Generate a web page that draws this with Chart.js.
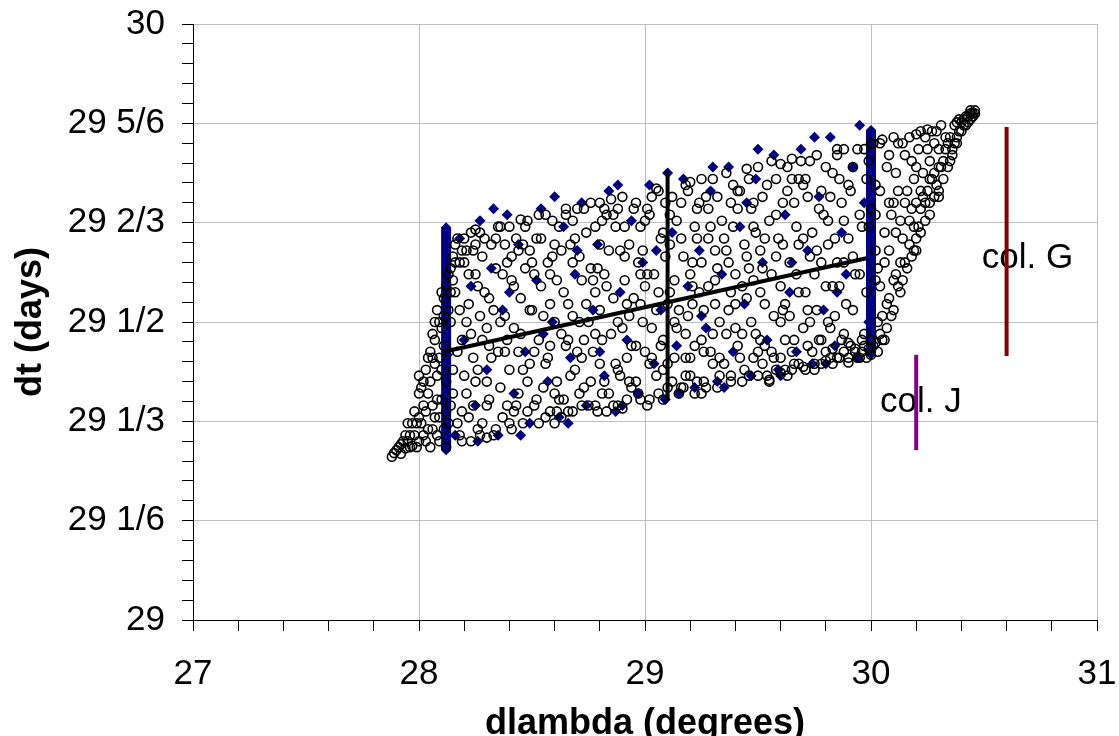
<!DOCTYPE html>
<html>
<head>
<meta charset="utf-8">
<script src="https://cdn.jsdelivr.net/npm/chart.js@4.4.0/dist/chart.umd.min.js"></script>
<style>
  html, body { margin: 0; padding: 0; background: #fff; }
  #wrap { width: 1119px; height: 736px; }
</style>
</head>
<body>
<div id="wrap"><canvas id="chart" width="1119" height="736"></canvas></div>
<script>
// Tick labels
const xTickLabels = ['27', '28', '29', '30', '31'];
const yTickLabels = ['29', '29 1/6', '29 1/3', '29 1/2', '29 2/3', '29 5/6', '30'];

// Open circles [dlambda, dt]
const circlePoints = [
  [27.88,29.274],[27.9,29.285],[27.92,29.279],[27.93,29.30],[27.94,29.288],
  [27.96,29.31],[27.97,29.292],[27.98,29.35],[27.99,29.33],[28.0,29.30],[28.01,29.39],[28.02,29.36],[28.03,29.42],[28.04,29.32],[28.05,29.29],[28.05,29.45],
  [28.06,29.48],[28.07,29.34],[28.08,29.52],[28.08,29.41],[28.09,29.30],[28.1,29.55],[28.1,29.37],[28.11,29.46],[28.12,29.29],[28.13,29.58],[28.13,29.33],[28.14,29.50],[28.15,29.61],[28.15,29.42],
  [28.02,29.40],[28.07,29.47],[28.11,29.54],[28.14,29.59],[28.16,29.63],[28.04,29.44],[27.95,29.33],[28.0,29.38],[28.06,29.44],[28.09,29.50],[28.12,29.56],[28.15,29.57],
  [28.17,29.64],[28.18,29.31],[28.19,29.47],[28.2,29.60],[28.21,29.38],[28.22,29.53],[28.23,29.65],[28.23,29.30],[28.24,29.44],[28.25,29.58],[28.19,29.35],[28.21,29.62],
  [28.26,29.42],[28.27,29.65],[28.28,29.33],[28.29,29.55],[28.3,29.49],[28.31,29.37],[28.32,29.63],[28.33,29.31],[28.34,29.59],[28.35,29.45],[28.28,29.61],[28.3,29.40],[28.33,29.52],
  [28.36,29.66],[28.37,29.34],[28.38,29.51],[28.39,29.60],[28.4,29.42],[28.41,29.32],[28.42,29.56],[28.43,29.64],[28.44,29.38],[28.45,29.48],[28.38,29.45],[28.42,29.35],[28.44,29.62],
  [28.46,29.33],[28.47,29.59],[28.48,29.67],[28.49,29.43],[28.5,29.52],[28.51,29.36],[28.52,29.64],[28.53,29.47],[28.54,29.56],[28.55,29.39],[28.49,29.62],[28.53,29.33],
  [28.56,29.68],[28.57,29.44],[28.58,29.35],[28.59,29.61],[28.6,29.50],[28.61,29.40],[28.62,29.66],[28.63,29.34],[28.64,29.55],[28.65,29.46],[28.58,29.58],[28.62,29.37],[28.6,29.63],
  [28.66,29.35],[28.67,29.63],[28.68,29.51],[28.69,29.42],[28.7,29.69],[28.71,29.38],[28.72,29.57],[28.73,29.47],[28.74,29.65],[28.75,29.36],[28.68,29.60],[28.72,29.44],[28.74,29.53],
  [28.76,29.70],[28.77,29.45],[28.78,29.36],[28.79,29.59],[28.8,29.52],[28.81,29.67],[28.82,29.40],[28.83,29.35],[28.84,29.62],[28.85,29.48],[28.78,29.55],[28.82,29.69],[28.8,29.43],
  [28.86,29.36],[28.87,29.66],[28.88,29.50],[28.89,29.41],[28.9,29.71],[28.91,29.57],[28.92,29.37],[28.93,29.63],[28.94,29.46],[28.95,29.54],[28.88,29.69],[28.92,29.44],[28.94,29.39],
  [28.96,29.70],[28.97,29.38],[28.98,29.53],[28.99,29.62],[29.0,29.45],[29.01,29.36],[29.02,29.68],[29.03,29.49],[29.04,29.58],[29.05,29.41],[28.98,29.66],[29.02,29.37],[29.0,29.56],
  [29.06,29.72],[29.07,29.46],[29.08,29.37],[29.09,29.61],[29.1,29.53],[29.11,29.68],[29.12,29.40],[29.13,29.57],[29.14,29.49],[29.15,29.38],[29.08,29.65],[29.12,29.71],[29.1,29.43],
  [29.16,29.64],[29.17,29.39],[29.18,29.73],[29.19,29.51],[29.2,29.44],[29.21,29.60],[29.22,29.38],[29.23,29.69],[29.24,29.55],[29.25,29.47],[29.18,29.41],[29.22,29.66],[29.2,29.58],
  [29.26,29.40],[29.27,29.71],[29.28,29.56],[29.29,29.45],[29.3,29.74],[29.31,29.62],[29.32,29.39],[29.33,29.50],[29.34,29.67],[29.35,29.43],[29.28,29.64],[29.32,29.59],[29.3,29.48],
  [29.36,29.75],[29.37,29.52],[29.38,29.41],[29.39,29.66],[29.4,29.58],[29.41,29.46],[29.42,29.72],[29.43,29.40],[29.44,29.63],[29.45,29.54],[29.38,29.70],[29.42,29.44],[29.4,29.49],
  [29.46,29.41],[29.47,29.69],[29.48,29.57],[29.49,29.48],[29.5,29.76],[29.51,29.62],[29.52,29.43],[29.53,29.53],[29.54,29.73],[29.55,29.40],[29.48,29.66],[29.52,29.59],[29.5,29.45],
  [29.56,29.77],[29.57,29.51],[29.58,29.42],[29.59,29.64],[29.6,29.56],[29.61,29.70],[29.62,29.47],[29.63,29.41],[29.64,29.60],[29.65,29.74],[29.58,29.68],[29.62,29.53],[29.6,29.44],
  [29.66,29.43],[29.67,29.66],[29.68,29.55],[29.69,29.77],[29.7,29.49],[29.71,29.42],[29.72,29.71],[29.73,29.61],[29.74,29.45],[29.75,29.58],[29.68,29.74],[29.72,29.52],[29.7,29.64],
  [29.76,29.78],[29.77,29.47],[29.78,29.43],[29.79,29.68],[29.8,29.56],[29.81,29.63],[29.82,29.44],[29.83,29.75],[29.84,29.51],[29.85,29.60],[29.78,29.72],[29.82,29.49],[29.8,29.45],
  [29.86,29.44],[29.87,29.70],[29.88,29.79],[29.89,29.53],[29.9,29.64],[29.91,29.46],[29.92,29.76],[29.93,29.58],[29.94,29.44],[29.95,29.68],[29.88,29.48],[29.92,29.61],[29.9,29.73],
  [29.96,29.45],[29.97,29.79],[29.98,29.55],[29.99,29.66],[30.0,29.47],[30.01,29.80],[30.02,29.62],[30.03,29.45],[30.04,29.72],[30.05,29.51],[29.98,29.74],[30.02,29.57],[30.0,29.69],
  [30.06,29.47],[30.07,29.76],[30.08,29.54],[30.09,29.68],[30.1,29.81],[30.11,29.58],[30.12,29.72],[30.13,29.55],[30.14,29.64],[30.15,29.78],[30.08,29.62],[30.12,29.80],
  [30.16,29.59],[30.17,29.81],[30.18,29.69],[30.19,29.62],[30.2,29.76],[30.21,29.66],[30.22,29.82],[30.23,29.71],[30.24,29.67],[30.25,29.79],[30.2,29.64],
  [30.26,29.70],[30.27,29.82],[30.28,29.75],[30.29,29.73],[30.3,29.79],[30.31,29.83],[30.32,29.77],[30.33,29.81],[30.34,29.76],[30.3,29.72],
  [30.36,29.79],[30.37,29.83],[30.38,29.81],[30.39,29.84],[30.4,29.82],[30.41,29.84],[30.42,29.83],[30.43,29.845],[30.44,29.84],[30.45,29.85],
  [28.3,29.306],[28.6,29.33],[28.9,29.355],[29.25,29.38],[29.55,29.403],[29.75,29.42],[29.9,29.432],[29.95,29.44],[30.0,29.445],[29.97,29.46],
  [30.07,29.49],[30.1,29.52],[30.14,29.57],[30.18,29.61],[30.22,29.65],[30.26,29.68],[30.3,29.71],[30.35,29.77],
  [28.4,29.66],[28.8,29.70],[29.2,29.735],[29.6,29.765],[30.0,29.80],[30.2,29.815],[30.38,29.835],
  [27.91,29.29],[27.95,29.30],[27.97,29.33],[27.99,29.29],[28.0,29.41],
  [28.01,29.33],[28.03,29.30],[28.04,29.38],[28.06,29.36],[28.07,29.50],[28.08,29.31],[28.09,29.44],[28.1,29.49],
  [28.11,29.32],[28.12,29.40],[28.13,29.52],[28.14,29.36],[28.16,29.55],[28.17,29.45],[28.18,29.60],[28.19,29.30],[28.2,29.64],
  [28.21,29.50],[28.22,29.34],[28.24,29.62],[28.25,29.40],[28.26,29.56],[28.27,29.31],[28.28,29.47],[28.29,29.64],[28.3,29.36],
  [28.31,29.54],[28.32,29.44],[28.34,29.32],[28.35,29.66],[28.36,29.39],[28.37,29.58],[28.38,29.63],[28.39,29.47],[28.4,29.33],
  [28.41,29.61],[28.42,29.49],[28.43,29.36],[28.45,29.54],[28.46,29.42],[28.47,29.66],[28.48,29.35],[28.49,29.52],[28.5,29.60],
  [28.51,29.45],[28.52,29.37],[28.54,29.64],[28.55,29.51],[28.56,29.34],[28.57,29.60],[28.58,29.46],[28.59,29.67],[28.6,29.38],
  [28.61,29.57],[28.63,29.48],[28.64,29.37],[28.65,29.68],[28.66,29.53],[28.67,29.41],[28.68,29.35],[28.69,29.64],[28.7,29.45],
  [28.71,29.61],[28.72,29.36],[28.73,29.69],[28.75,29.50],[28.76,29.40],[28.77,29.57],[28.78,29.66],[28.79,29.35],[28.8,29.63],
  [28.81,29.47],[28.82,29.58],[28.83,29.68],[28.84,29.38],[28.86,29.54],[28.87,29.43],[28.88,29.36],[28.89,29.62],[28.9,29.49],
  [28.91,29.66],[28.92,29.53],[28.93,29.40],[28.95,29.69],[28.96,29.46],[28.97,29.60],[28.98,29.37],[28.99,29.50],[29.0,29.67],
  [29.01,29.58],[29.02,29.43],[29.03,29.71],[29.05,29.52],[29.06,29.38],[29.07,29.64],[29.08,29.47],[29.09,29.70],[29.1,29.39],
  [29.11,29.55],[29.13,29.44],[29.14,29.67],[29.15,29.52],[29.16,29.39],[29.17,29.61],[29.18,29.48],[29.19,29.72],[29.2,29.41],
  [29.21,29.53],[29.22,29.46],[29.23,29.40],[29.24,29.70],[29.25,29.60],[29.26,29.52],[29.27,29.39],[29.29,29.66],[29.3,29.43],
  [29.31,29.57],[29.32,29.71],[29.33,29.41],[29.35,29.64],[29.36,29.48],[29.37,29.60],[29.38,29.40],[29.39,29.73],[29.4,29.53],
  [29.41,29.69],[29.43,29.56],[29.44,29.42],[29.45,29.61],[29.46,29.74],[29.47,29.50],[29.48,29.44],[29.49,29.65],[29.5,29.41],
  [29.51,29.55],[29.52,29.71],[29.53,29.46],[29.54,29.41],[29.55,29.67],[29.56,29.58],[29.57,29.44],[29.58,29.74],[29.6,29.50],
  [29.61,29.63],[29.62,29.42],[29.63,29.76],[29.64,29.51],[29.65,29.45],[29.66,29.70],[29.67,29.58],[29.68,29.43],[29.7,29.73],
  [29.71,29.55],[29.72,29.46],[29.73,29.77],[29.74,29.65],[29.75,29.43],[29.76,29.52],[29.77,29.69],[29.78,29.60],[29.8,29.76],
  [29.81,29.50],[29.82,29.71],[29.83,29.43],[29.84,29.64],[29.85,29.78],[29.86,29.56],[29.87,29.47],[29.88,29.67],[29.9,29.44],
  [29.91,29.72],[29.92,29.52],[29.93,29.45],[29.94,29.79],[29.95,29.58],[29.96,29.66],[29.97,29.48],[29.98,29.44],[29.99,29.77],
  [30.01,29.46],[30.02,29.73],[30.03,29.59],[30.04,29.80],[30.05,29.47],[30.06,29.65],[30.07,29.53],[30.08,29.78],[30.09,29.51],[30.1,29.70],
  [30.11,29.75],[30.12,29.56],[30.13,29.67],[30.14,29.80],[30.15,29.60],[30.16,29.72],[30.17,29.63],[30.18,29.77],[30.19,29.66],[30.2,29.70],
  [30.21,29.79],[30.22,29.69],[30.23,29.75],[30.24,29.81],[30.25,29.72],[30.26,29.77],[30.27,29.74],[30.28,29.80],[30.29,29.82],
  [30.31,29.76],[30.33,29.79],[30.35,29.81],[30.37,29.80],[30.39,29.82],[30.41,29.83],[30.43,29.835],[30.44,29.85],[30.46,29.85],
  [27.89,29.28],[27.92,29.295],[27.94,29.31],[27.96,29.29],[27.98,29.31],[28.0,29.34],[28.02,29.31],[28.03,29.35],[28.05,29.40],[28.06,29.32],
  [28.07,29.43],[28.08,29.37],[28.09,29.34],[28.1,29.42],[28.11,29.51],[28.12,29.35],[28.13,29.45],[28.14,29.55],[28.15,29.38],[28.16,29.60],
  [28.17,29.33],[28.18,29.52],[28.19,29.62],[28.2,29.41],[28.22,29.58],[28.23,29.48],[28.24,29.36],[28.25,29.63],[28.26,29.32],[28.27,29.51],
  [28.31,29.46],[28.34,29.64],[28.36,29.50],[28.39,29.36],[28.41,29.57],[28.44,29.45],[28.46,29.63],[28.48,29.40],
  [28.51,29.58],[28.53,29.68],[28.56,29.43],[28.58,29.53],[28.61,29.35],[28.63,29.62],[28.66,29.47],[28.68,29.67],
  [28.71,29.50],[28.73,29.39],[28.76,29.59],[28.78,29.48],[28.81,29.38],[28.83,29.56],[28.86,29.68],[28.88,29.42],
  [28.91,29.61],[28.93,29.51],[28.96,29.40],[28.98,29.58],[29.01,29.69],[29.03,29.44],[29.06,29.55],[29.08,29.42],
  [29.11,29.63],[29.13,29.50],[29.16,29.70],[29.18,29.44],[29.21,29.56],[29.23,29.64],[29.26,29.45],[29.28,29.69],
  [29.31,29.53],[29.33,29.44],[29.36,29.62],[29.38,29.55],[29.41,29.72],[29.43,29.48],[29.46,29.59],[29.48,29.70],
  [29.51,29.47],[29.53,29.64],[29.56,29.45],[29.58,29.61],[29.61,29.52],[29.63,29.72],[29.66,29.47],[29.68,29.63],
  [29.71,29.74],[29.73,29.50],[29.76,29.62],[29.78,29.47],[29.81,29.67],[29.83,29.56],[29.86,29.74],[29.88,29.60],
  [29.6,29.415],[29.65,29.42],[29.7,29.425],[29.8,29.435],[29.85,29.44],[29.88,29.45],[29.93,29.455],[29.96,29.47],[29.99,29.455],[30.02,29.465],
  [30.04,29.48],[30.03,29.50],[29.9,29.465],[29.83,29.455],
  [30.02,29.68],[30.04,29.56],[30.06,29.60],[30.08,29.70],[30.1,29.57],[30.11,29.65],[30.13,29.60],[30.15,29.70],[30.17,29.67],[30.19,29.74],
  [30.2,29.62],[30.22,29.72],[30.24,29.70],[30.26,29.74],[30.28,29.71],[30.3,29.76],[30.32,29.74],[30.34,29.80],[30.36,29.78],[30.38,29.80],
  [30.4,29.835],[30.42,29.845],[30.44,29.855],[30.46,29.855],[30.45,29.845],
  [28.25,29.655],[28.45,29.672],[28.65,29.69],[28.85,29.706],[29.05,29.724],[29.25,29.74],[29.45,29.757],[29.65,29.774],[29.85,29.79],[30.05,29.806],[30.25,29.823]
];

// Filled diamonds [dlambda, dt]
const diamondPoints = [
  [28.16,29.31],[28.18,29.64],[28.2,29.47],[28.23,29.56],[28.25,29.36],[28.27,29.67],[28.3,29.42],[28.32,29.59],[28.35,29.31],[28.37,29.52],
  [28.39,29.68],[28.42,29.38],[28.44,29.63],[28.47,29.45],[28.49,29.33],[28.52,29.57],[28.54,29.69],[28.57,29.40],[28.59,29.50],[28.62,29.34],
  [28.64,29.66],[28.67,29.44],[28.69,29.58],[28.72,29.70],[28.74,29.36],[28.77,29.52],[28.79,29.63],[28.82,29.41],[28.84,29.72],[28.87,29.35],
  [28.89,29.55],[28.92,29.47],[28.94,29.67],[28.97,29.38],[28.99,29.60],[29.02,29.73],[29.04,29.43],[29.07,29.52],[29.09,29.37],[29.12,29.65],
  [29.14,29.46],[29.17,29.74],[29.19,29.56],[29.22,29.39],[29.24,29.62],[29.27,29.49],[29.29,29.72],[29.32,29.40],[29.34,29.58],[29.37,29.76],
  [29.39,29.45],[29.42,29.66],[29.44,29.53],[29.47,29.41],[29.49,29.74],[29.52,29.60],[29.54,29.47],[29.57,29.78],[29.59,29.42],[29.62,29.68],
  [29.64,29.55],[29.67,29.45],[29.69,29.79],[29.72,29.62],[29.74,29.43],[29.77,29.71],[29.79,29.52],[29.82,29.81],[29.84,29.46],[29.87,29.65],
  [29.89,29.58],[29.92,29.76],[29.94,29.44],[29.97,29.70],[29.99,29.50],
  [28.26,29.30],[28.45,29.31],[28.66,29.33],[28.9,29.36],[29.15,29.38],[29.35,29.39],[29.6,29.41],[29.8,29.43],
  [28.33,29.69],[28.6,29.71],[28.88,29.73],[29.1,29.75],[29.3,29.76],[29.5,29.79],[29.75,29.81],[29.95,29.83],
  [28.55,29.48],[28.8,29.45],[29.05,29.62],[29.25,29.51],[29.45,29.70],[29.65,29.60],[29.85,29.55],[28.4,29.55],[28.7,29.62]
];

// Straight segments: [start, end]
const leftBarDx = [28.12, 28.12];
const leftBarDt = [29.285, 29.659];
const rightBarDx = [30.0, 30.0];
const rightBarDt = [29.445, 29.822];
const midLineDx = [29.1, 29.1];
const midLineDt = [29.37, 29.752];
const fitLineDx = [28.12, 29.98];
const fitLineDt = [29.451, 29.607];
const colGDx = [30.6, 30.6];
const colGDt = [29.443, 29.827];
const colJDx = [30.2, 30.2];
const colJDt = [29.285, 29.445];

// Text labels inside the plot
const labelTexts = ['col. G', 'col. J'];
const labelDx = [30.49, 30.04];
const labelDt = [29.591, 29.349];

const toXY = (xs, ys) => xs.map((x, i) => ({ x: x, y: ys[i] }));

// minor ticks every 0.2 on x and every 1/30 on y
const xTickValues = [];
for (let i = 0; i <= 20; i++) xTickValues.push(Math.round((27 + i * 0.2) * 10) / 10);
const yTickValues = [];
for (let i = 0; i <= 30; i++) yTickValues.push(29 + i / 30);

const isMajorX = v => Math.abs(v - Math.round(v)) < 1e-9;
const isMajorY = v => Math.abs((v - 29) * 6 - Math.round((v - 29) * 6)) < 1e-6;

const fontFamily = "'Liberation Sans', Arial, sans-serif";
const tickFont = { family: fontFamily, size: 35 };
const titleFont = { family: fontFamily, size: 36, weight: 'bold', lineHeight: 0.8 };

const colLabels = {
    id: 'colLabels',
    beforeDatasetsDraw(chart) {
        const { ctx, scales } = chart;
        ctx.save();
        ctx.font = '35px ' + fontFamily;
        ctx.fillStyle = '#000';
        ctx.textAlign = 'left';
        ctx.textBaseline = 'alphabetic';
        labelTexts.forEach((t, i) => {
            ctx.fillText(t, scales.x.getPixelForValue(labelDx[i]), scales.y.getPixelForValue(labelDt[i]));
        });
        ctx.restore();
    }
};

function segment(xs, ys, color, width) {
    return {
        data: toXY(xs, ys),
        showLine: true,
        borderColor: color,
        borderWidth: width,
        borderCapStyle: 'butt',
        pointRadius: 0,
        pointHoverRadius: 0
    };
}

const leftBar = segment(leftBarDx, leftBarDt, '#000080', 10);
const rightBar = segment(rightBarDx, rightBarDt, '#000080', 10);
[leftBar, rightBar].forEach(d => {
    d.pointRadius = 5;
    d.pointStyle = 'rectRot';
    d.pointBackgroundColor = '#000080';
    d.pointBorderWidth = 0;
});

const ctx = document.getElementById('chart').getContext('2d');
new Chart(ctx, {
    type: 'scatter',
    data: {
        datasets: [
            segment(fitLineDx, fitLineDt, '#000', 4),
            segment(midLineDx, midLineDt, '#000', 4),
            segment(colGDx, colGDt, '#800000', 4),
            segment(colJDx, colJDt, '#800080', 4),
            {
                data: circlePoints.map(p => ({ x: p[0], y: p[1] })),
                pointStyle: 'circle',
                pointRadius: 4.5,
                pointBorderWidth: 1.6,
                pointBorderColor: '#000',
                pointBackgroundColor: 'rgba(0,0,0,0)'
            },
            {
                data: diamondPoints.map(p => ({ x: p[0], y: p[1] })),
                pointStyle: 'rectRot',
                pointRadius: 5.5,
                pointBorderWidth: 0,
                pointBackgroundColor: '#000080'
            },
            leftBar,
            rightBar
        ]
    },
    options: {
        responsive: false,
        animation: false,
        layout: { padding: { top: 24, right: 22, left: 0, bottom: 0 } },
        plugins: { legend: { display: false }, tooltip: { enabled: false } },
        scales: {
            x: {
                type: 'linear',
                min: 27,
                max: 31,
                afterBuildTicks: axis => { axis.ticks = xTickValues.map(v => ({ value: v })); },
                afterFit: axis => {
                    axis.height = 116;
                    axis.paddingLeft = 0;
                    axis.paddingRight = 0;
                },
                ticks: {
                    autoSkip: false,
                    maxRotation: 0,
                    font: tickFont,
                    color: '#000',
                    padding: 22,
                    callback: v => isMajorX(v) ? xTickLabels[Math.round(v) - 27] : ''
                },
                grid: {
                    color: c => (c.tick && isMajorX(c.tick.value)) ? '#c0c0c0' : 'rgba(0,0,0,0)',
                    tickColor: '#000',
                    tickLength: 11
                },
                border: { color: '#000', width: 1 },
                title: { display: true, text: 'dlambda (degrees)', font: titleFont, color: '#000', padding: { top: 0, bottom: -2 } }
            },
            y: {
                type: 'linear',
                min: 29,
                max: 30,
                afterBuildTicks: axis => { axis.ticks = yTickValues.map(v => ({ value: v })); },
                afterFit: axis => {
                    axis.width = 193;
                    axis.paddingTop = 0;
                    axis.paddingBottom = 0;
                },
                ticks: {
                    autoSkip: false,
                    font: tickFont,
                    color: '#000',
                    padding: 17,
                    callback: v => isMajorY(v) ? yTickLabels[Math.round((v - 29) * 6)] : ''
                },
                grid: {
                    color: c => (c.tick && isMajorY(c.tick.value)) ? '#c0c0c0' : 'rgba(0,0,0,0)',
                    tickColor: '#000',
                    tickLength: 11
                },
                border: { color: '#000', width: 1 },
                title: { display: true, text: 'dt (days)', font: titleFont, color: '#000', padding: { top: 17, bottom: 0 } }
            }
        }
    },
    plugins: [colLabels]
});
</script>
</body>
</html>
